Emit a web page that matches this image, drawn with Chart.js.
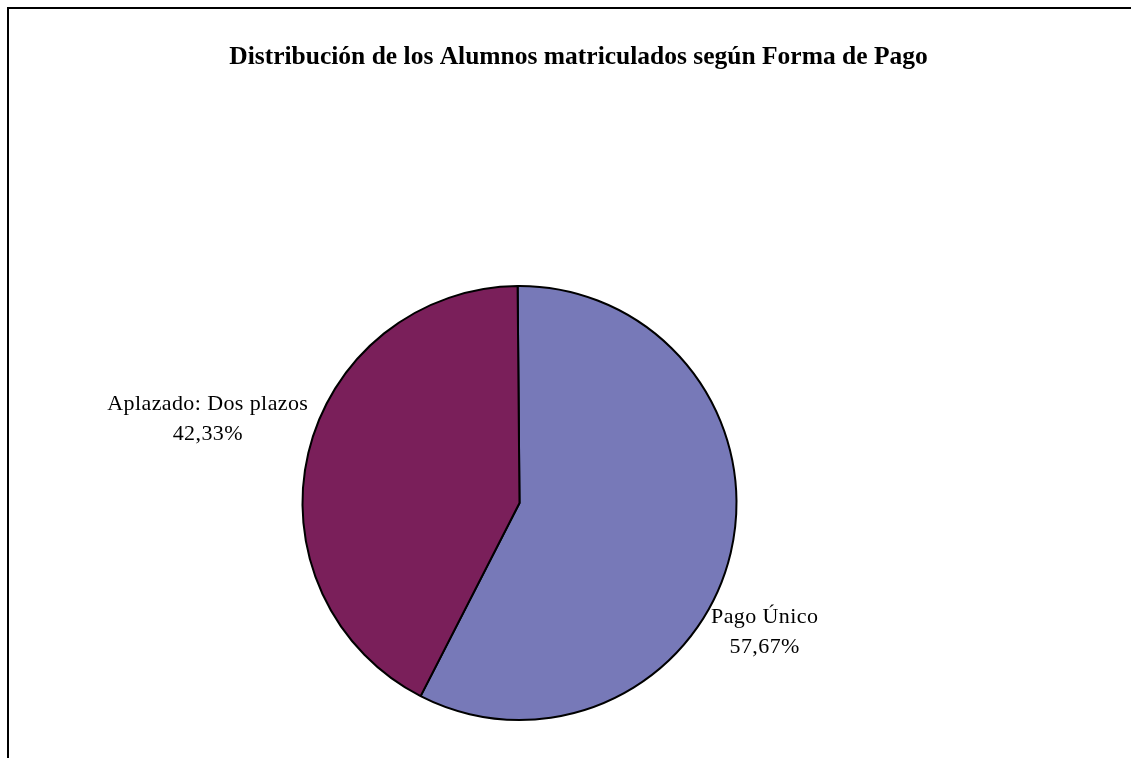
<!DOCTYPE html>
<html lang="es">
<head>
<meta charset="utf-8">
<title>Forma de Pago</title>
<script src="https://cdn.jsdelivr.net/npm/chart.js@4/dist/chart.umd.min.js"></script>
<style>
  html, body { margin: 0; padding: 0; background: #fff; }
  #wrap { position: relative; width: 1131px; height: 758px; }
</style>
</head>
<body>
<div id="wrap"><canvas id="pagoChart"></canvas></div>
<script>
// Datos del gráfico
const titulo = 'Distribución de los Alumnos matriculados según Forma de Pago';
const categorias = ['Pago Único', 'Aplazado: Dos plazos'];
const porcentajes = [57.67, 42.33];
const colores = ['#7779B8', '#7A1F5A'];

// Marco (líneas superior e izquierda) y título
const marcoTitulo = {
    id: 'marcoTitulo',
    afterDraw(chart) {
        const ctx = chart.ctx;
        ctx.save();
        ctx.fillStyle = '#000';
        ctx.fillRect(7, 7, chart.width - 7, 2);
        ctx.fillRect(7, 7, 2, chart.height - 7);
        ctx.font = 'bold 25.5px "Liberation Serif", "Times New Roman", serif';
        ctx.textAlign = 'center';
        ctx.textBaseline = 'middle';
        ctx.fillText(titulo, 578.5, 57);
        ctx.restore();
    }
};

// Etiquetas de datos: nombre y porcentaje fuera de cada sector
const etiquetas = {
    id: 'etiquetas',
    afterDatasetsDraw(chart) {
        const ctx = chart.ctx;
        const meta = chart.getDatasetMeta(0);
        const fracciones = [0.571, 0.5];
        ctx.save();
        ctx.font = '22px "Liberation Serif", "Times New Roman", serif';
        ctx.letterSpacing = '0.4px';
        ctx.fillStyle = '#000';
        ctx.textAlign = 'center';
        ctx.textBaseline = 'middle';
        meta.data.forEach((arc, i) => {
            const p = arc.getProps(['x', 'y', 'startAngle', 'endAngle', 'outerRadius']);
            const ang = p.startAngle + fracciones[i] * (p.endAngle - p.startAngle);
            const px = p.x + p.outerRadius * Math.cos(ang);
            const py = p.y + p.outerRadius * Math.sin(ang);
            const lineas = [categorias[i], porcentajes[i].toFixed(2).replace('.', ',') + '%'];
            const ancho = Math.max(...lineas.map(l => ctx.measureText(l).width));
            let cx, y0;
            if (Math.cos(ang) >= 0) {
                cx = px + ancho / 2;
                y0 = py + 12;
            } else {
                cx = px - ancho / 2;
                y0 = py - 49;
            }
            lineas.forEach((l, k) => ctx.fillText(l, cx, y0 + k * 30));
        });
        ctx.restore();
    }
};

const ctx = document.getElementById('pagoChart').getContext('2d');
new Chart(ctx, {
    type: 'pie',
    data: {
        labels: categorias,
        datasets: [{
            data: porcentajes,
            backgroundColor: colores,
            borderColor: '#000',
            borderWidth: 2,
            hoverOffset: 0
        }]
    },
    options: {
        responsive: true,
        maintainAspectRatio: false,
        animation: false,
        rotation: -0.5,
        radius: 217,
        layout: {
            padding: { left: 301, right: 393, top: 285, bottom: 37 }
        },
        plugins: {
            legend: { display: false },
            tooltip: { enabled: false },
            title: { display: false }
        }
    },
    plugins: [marcoTitulo, etiquetas]
});
</script>
</body>
</html>
